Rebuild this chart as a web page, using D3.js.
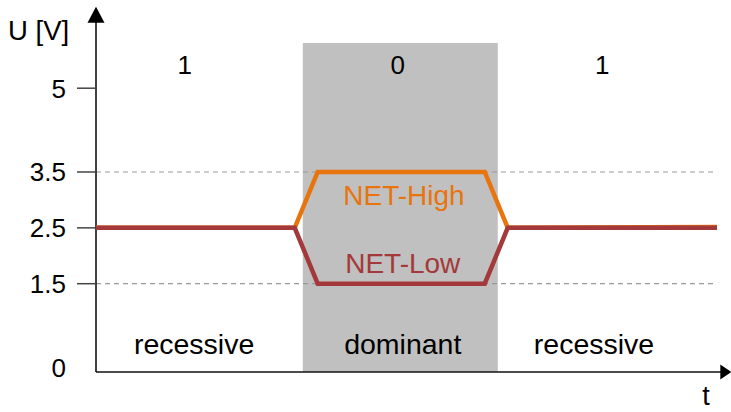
<!DOCTYPE html>
<html>
<head>
<meta charset="utf-8">
<script src="https://cdn.jsdelivr.net/npm/d3@7"></script>
<style>
  body { margin: 0; background: #fff; }
  text { font-family: "Liberation Sans", Arial, sans-serif; }
</style>
</head>
<body>
<div id="chart"></div>
<script>
(function() {
  // voltage ticks on the U axis
  var vTicks = [0, 1.5, 2.5, 3.5, 5];
  var dashedLevels = [1.5, 3.5];

  // time points (arbitrary units) and bus levels
  var tPoints = [0, 3.2, 3.57, 6.26, 6.63, 10];
  var netHigh = [2.5, 2.5, 3.5, 3.5, 2.5, 2.515];
  var netLow = [2.5, 2.5, 1.5, 1.5, 2.5, 2.5];

  // bit periods
  var bits = ["1", "0", "1"];
  var bitCenters = [1.43, 4.86, 8.15];
  var states = ["recessive", "dominant", "recessive"];
  var stateCenters = [1.58, 4.94, 8.02];
  var dominantSpan = [3.33, 6.47];

  var width = 731;
  var height = 412;

  var svg = d3.select("#chart")
    .append("svg")
    .attr("width", width)
    .attr("height", height);

  var x = d3.scaleLinear().domain([0, 10]).range([96, 717]);
  var y = d3.scaleLinear().domain([0, 5]).range([367.5, 88.2]);

  var xAxisV = -0.08;   // the time axis sits a little below 0 V
  var yTopV = 6.46;     // tip of the U arrow
  var tEnd = 10.23;     // tip of the t arrow

  // shaded dominant period
  svg.append("rect")
    .attr("x", x(dominantSpan[0]))
    .attr("y", 43)
    .attr("width", x(dominantSpan[1]) - x(dominantSpan[0]))
    .attr("height", y(xAxisV) - 43)
    .attr("fill", "#c0c0c0");

  // dashed reference levels
  svg.selectAll("line.level")
    .data(dashedLevels)
    .enter()
    .append("line")
    .attr("class", "level")
    .attr("x1", x(0))
    .attr("x2", x(10))
    .attr("y1", function(d) { return y(d); })
    .attr("y2", function(d) { return y(d); })
    .attr("stroke", "#999")
    .attr("stroke-width", 1.2)
    .attr("stroke-dasharray", "5,4");

  // axes
  svg.append("line")
    .attr("x1", x(0)).attr("x2", x(0))
    .attr("y1", y(xAxisV)).attr("y2", y(yTopV) + 10)
    .attr("stroke", "#111").attr("stroke-width", 1.6);
  svg.append("line")
    .attr("x1", x(0)).attr("x2", x(tEnd) - 6)
    .attr("y1", y(xAxisV)).attr("y2", y(xAxisV))
    .attr("stroke", "#111").attr("stroke-width", 1.6);

  var up = d3.path();
  up.moveTo(x(0), y(yTopV));
  up.lineTo(x(0) - 8.5, y(yTopV) + 16);
  up.lineTo(x(0) + 8.5, y(yTopV) + 16);
  up.closePath();
  svg.append("path").attr("d", up.toString()).attr("fill", "#000");

  var right = d3.path();
  right.moveTo(x(tEnd), y(xAxisV));
  right.lineTo(x(tEnd) - 11, y(xAxisV) - 7.5);
  right.lineTo(x(tEnd) - 11, y(xAxisV) + 7.5);
  right.closePath();
  svg.append("path").attr("d", right.toString()).attr("fill", "#000");

  // tick marks (none at 0) and labels
  svg.selectAll("line.tick")
    .data(vTicks.filter(function(d) { return d > 0; }))
    .enter()
    .append("line")
    .attr("class", "tick")
    .attr("x1", 77).attr("x2", x(0))
    .attr("y1", function(d) { return y(d); })
    .attr("y2", function(d) { return y(d); })
    .attr("stroke", "#444")
    .attr("stroke-width", 1.5);

  svg.selectAll("text.tickLabel")
    .data(vTicks)
    .enter()
    .append("text")
    .attr("class", "tickLabel")
    .attr("x", 66)
    .attr("y", function(d) { return y(d); })
    .attr("dy", "0.36em")
    .attr("text-anchor", "end")
    .attr("font-size", 26)
    .attr("fill", "#000")
    .text(function(d) { return d; });

  svg.append("text")
    .attr("x", 8).attr("y", 40)
    .attr("font-size", 27.5)
    .attr("fill", "#000")
    .text("U [V]");

  svg.append("text")
    .attr("x", 706).attr("y", 405)
    .attr("text-anchor", "middle")
    .attr("font-size", 27)
    .attr("fill", "#000")
    .text("t");

  // bus lines
  var line = d3.line()
    .x(function(d, i) { return x(tPoints[i]); })
    .y(function(d) { return y(d); });

  svg.append("path")
    .datum(netHigh)
    .attr("d", line)
    .attr("fill", "none")
    .attr("stroke", "#e8740e")
    .attr("stroke-width", 4.5)
    .attr("stroke-linejoin", "miter");

  svg.append("path")
    .datum(netLow)
    .attr("d", line)
    .attr("fill", "none")
    .attr("stroke", "#a3393a")
    .attr("stroke-width", 4.5)
    .attr("stroke-linejoin", "miter");

  svg.append("text")
    .attr("x", x(4.96)).attr("y", 205)
    .attr("text-anchor", "middle")
    .attr("font-size", 28)
    .attr("fill", "#e8740e")
    .text("NET-High");

  svg.append("text")
    .attr("x", x(4.94)).attr("y", 273)
    .attr("text-anchor", "middle")
    .attr("font-size", 28)
    .attr("fill", "#a3393a")
    .text("NET-Low");

  // bit values and bus states
  svg.selectAll("text.bit")
    .data(bits)
    .enter()
    .append("text")
    .attr("class", "bit")
    .attr("x", function(d, i) { return x(bitCenters[i]); })
    .attr("y", 74)
    .attr("text-anchor", "middle")
    .attr("font-size", 26)
    .attr("fill", "#000")
    .text(function(d) { return d; });

  svg.selectAll("text.state")
    .data(states)
    .enter()
    .append("text")
    .attr("class", "state")
    .attr("x", function(d, i) { return x(stateCenters[i]); })
    .attr("y", 354)
    .attr("text-anchor", "middle")
    .attr("font-size", 28.5)
    .attr("fill", "#000")
    .text(function(d) { return d; });
})();
</script>
</body>
</html>
